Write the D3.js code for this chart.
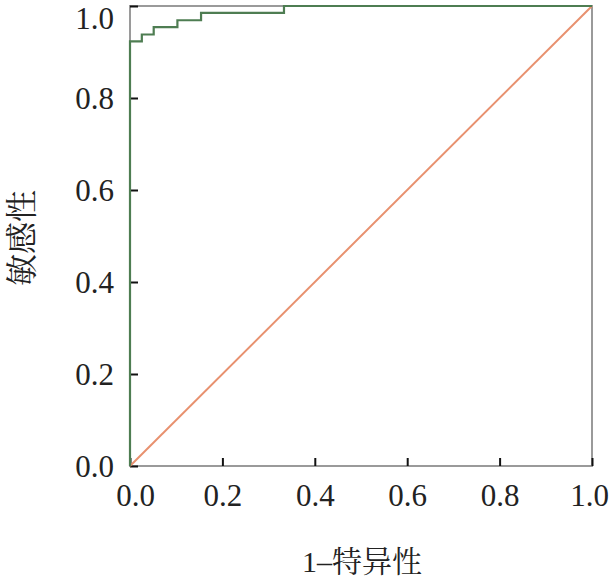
<!DOCTYPE html>
<html><head><meta charset="utf-8">
<script src="https://cdn.jsdelivr.net/npm/d3@7"></script>
<style>body{margin:0;background:#fff}svg{display:block}</style>
</head><body>
<svg id="c" width="616" height="584"></svg>
<script>
const fpr = [0, 0, 0.0256, 0.0256, 0.0513, 0.0513, 0.1026, 0.1026, 0.1538, 0.1538, 0.3333, 0.3333, 1.0];
const tpr = [0, 0.923, 0.923, 0.938, 0.938, 0.954, 0.954, 0.969, 0.969, 0.985, 0.985, 1.0, 1.0];
const refX = [0, 1];
const refY = [0, 1];
const ticks = [0, 0.2, 0.4, 0.6, 0.8, 1.0];
const xTitle = "1\u2013特异性";
const yTitle = "敏感性";

const svg = d3.select("#c");
const m = {l:130, r:592, t:6, b:466};
const x = d3.scaleLinear().domain([0,1]).range([m.l, m.r]);
const y = d3.scaleLinear().domain([0,1]).range([m.b, m.t]);
const numFont = "'Liberation Serif','Times New Roman',serif";
const cjkFont = "'Liberation Serif','Noto Serif CJK SC','Noto Sans CJK SC',serif";

// frame
svg.append("rect").attr("x", m.l).attr("y", m.t).attr("width", m.r-m.l).attr("height", m.b-m.t)
  .attr("fill","none").attr("stroke","#9a9a9a").attr("stroke-width",2);

// axes (ticks inward)
const xAxis = d3.axisBottom(x).tickValues(ticks).tickFormat(d3.format(".1f")).tickSizeInner(-8).tickSizeOuter(0).tickPadding(18);
const yAxis = d3.axisLeft(y).tickValues(ticks).tickFormat(d3.format(".1f")).tickSizeInner(-8).tickSizeOuter(0).tickPadding(16);
const gx = svg.append("g").attr("transform",`translate(0,${m.b})`).call(xAxis);
const gy = svg.append("g").attr("transform",`translate(${m.l},0)`).call(yAxis);
[gx, gy].forEach(g => {
  g.select(".domain").remove();
  g.selectAll(".tick line").attr("stroke","#111").attr("stroke-width",2);
  g.selectAll(".tick text").attr("fill","#222").style("font-family", numFont).style("font-size","31px");
});
gy.selectAll(".tick text").attr("dy", d => d === 1 ? "0.72em" : "0.34em");
gx.selectAll(".tick text").attr("dy","0.71em")
  .attr("dx", d => d === 0 ? 5 : (d === 1 ? -3 : 0));

// diagonal
const line = d3.line().x(d=>x(d[0])).y(d=>y(d[1]));
svg.append("path").datum(d3.zip(refX, refY)).attr("d", line)
  .attr("fill","none").attr("stroke","#e8916f").attr("stroke-width",2);

// ROC
svg.append("path").datum(d3.zip(fpr, tpr)).attr("d", line)
  .attr("fill","none").attr("stroke","#4e7d52").attr("stroke-width",2.2);

// titles
svg.append("text").attr("x", 362).attr("y", 572).attr("text-anchor","middle")
  .style("font-family", cjkFont).style("font-size","30px").attr("fill","#222").text(xTitle);
svg.append("text").attr("transform","translate(33,238) rotate(-90)").attr("text-anchor","middle")
  .style("font-family", cjkFont).style("font-size","32px").attr("fill","#222").text(yTitle);
</script>
</body></html>
